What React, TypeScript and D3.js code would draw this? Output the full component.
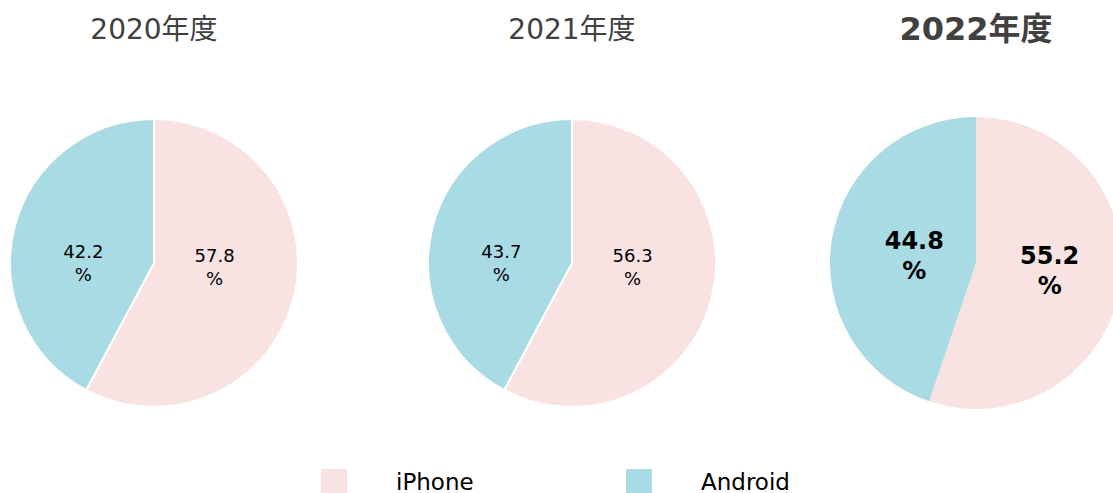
import React from "react";
import * as d3 from "d3";

const years = ["2020年度", "2021年度", "2022年度"];
const categories = ["iPhone", "Android"];
// shares printed in the labels
const iphoneLabel = [57.8, 56.3, 55.2];
const androidLabel = [42.2, 43.7, 44.8];
// shares as the slices are actually drawn in the picture
const iphoneSlice = [57.8, 57.8, 55.2];
const androidSlice = [42.2, 42.2, 44.8];
const colors = ["#F8E2E2", "#A9DBE4"];

const W = 1113;
const H = 493;

export default function App() {
  const centersX = [154, 572, 976];
  const radii = [144, 144, 146];
  const highlight = [false, false, true];
  const labelShiftX = [-5, -5, 6];
  const labelScaleY = [0.12, 0.12, 0.7];
  const pie = d3.pie<number>().sort(null).value((d) => d);

  return (
    <svg
      width={W}
      height={H}
      style={{ position: "absolute", left: 0, top: 0, background: "#fff" }}
    >
      {years.map((y, i) => {
        const data = [iphoneSlice[i], androidSlice[i]];
        const labels = [iphoneLabel[i], androidLabel[i]];
        const arcs = pie(data);
        const R = radii[i];
        const arc = d3.arc<d3.PieArcDatum<number>>().innerRadius(0).outerRadius(R);
        const labelArc = d3
          .arc<d3.PieArcDatum<number>>()
          .innerRadius(R * 0.47)
          .outerRadius(R * 0.47);
        const cx = centersX[i];
        const cy = 263;
        const hl = highlight[i];
        return (
          <g key={y}>
            <text
              x={cx}
              y={hl ? 40 : 39}
              textAnchor="middle"
              fontFamily="'DejaVu Sans', 'Noto Sans CJK JP', sans-serif"
              fontSize={hl ? 32 : 28}
              fontWeight={hl ? 700 : 400}
              fill="#404040"
            >
              {y}
            </text>
            <g transform={`translate(${cx},${cy})`}>
              {arcs.map((a, j) => (
                <path
                  key={j}
                  d={arc(a) || ""}
                  fill={colors[j]}
                  stroke={hl ? "none" : "#fff"}
                  strokeWidth={2}
                />
              ))}
              {arcs.map((a, j) => {
                const [lx0, ly0] = labelArc.centroid(a);
                const lx = lx0 + labelShiftX[i];
                const ly = ly0 * labelScaleY[i] + (hl ? 0 : 2);
                const fs = hl ? 24 : 18;
                const gap = hl ? 30 : 23;
                return (
                  <text
                    key={"l" + j}
                    x={lx}
                    y={ly}
                    textAnchor="middle"
                    fontFamily="'DejaVu Sans', sans-serif"
                    fontSize={fs}
                    fontWeight={hl ? 700 : 400}
                    fill="#000"
                  >
                    <tspan x={lx} dy={-gap / 2 + fs * 0.35}>
                      {labels[j].toFixed(1)}
                    </tspan>
                    <tspan x={lx} dy={gap}>
                      %
                    </tspan>
                  </text>
                );
              })}
            </g>
          </g>
        );
      })}
      {categories.map((c, k) => {
        const lx = 321 + k * 305;
        return (
          <g key={c}>
            <rect x={lx} y={469} width={26} height={26} fill={colors[k]} />
            <text
              x={lx + 75}
              y={490}
              fontFamily="'DejaVu Sans', sans-serif"
              fontSize={23}
              fill="#000"
            >
              {c}
            </text>
          </g>
        );
      })}
    </svg>
  );
}
